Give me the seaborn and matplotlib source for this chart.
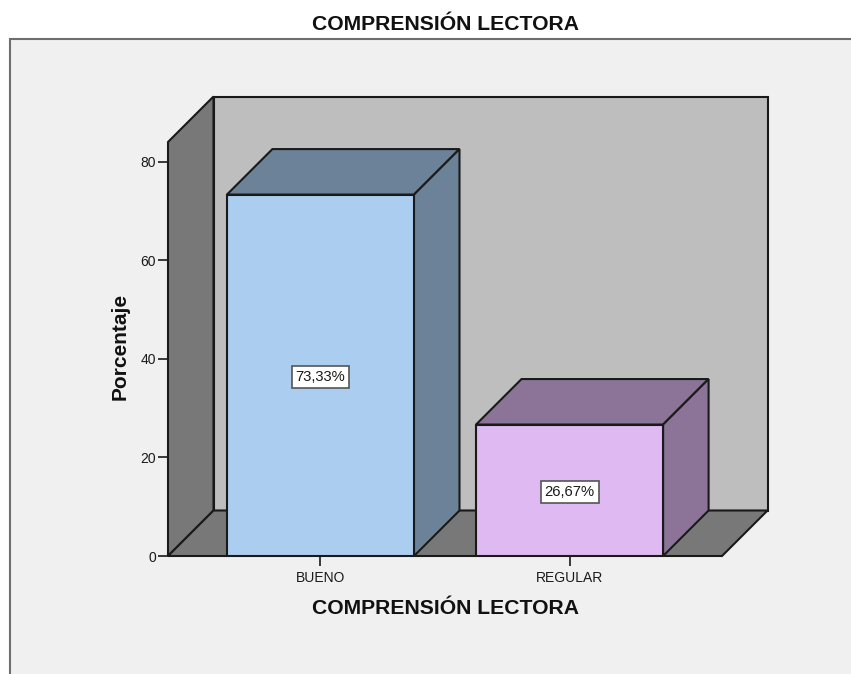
import matplotlib
matplotlib.use("Agg")
import matplotlib.pyplot as plt
import pandas as pd
import seaborn as sns
from matplotlib.patches import Polygon, Rectangle

# Data
categorias = ["BUENO", "REGULAR"]
porcentajes = [73.33, 26.67]
etiquetas = ["73,33%", "26,67%"]
y_ticks = [0, 20, 40, 60, 80]

colores = ["#ABCDEF", "#DEB9F2"]
colores_lado = ["#6C8299", "#8B7498"]
titulo = "COMPRENSIÓN LECTORA"

W, H = 851, 674
sns.set_theme(style="white")
plt.rcParams["font.family"] = ["Liberation Sans", "DejaVu Sans"]

df = pd.DataFrame({"cat": categorias, "pct": porcentajes})

fig = plt.figure(figsize=(W / 100, H / 100), dpi=100, facecolor="white")

# grey chart panel, runs off the right and bottom of the image
fig.add_artist(Rectangle((9.5 / W, -0.01), 1, 1 - 38.5 / H + 0.01, transform=fig.transFigure,
                         facecolor="#F0F0F0", edgecolor="#6E6E6E", linewidth=1.5, zorder=-1))

ax = fig.add_axes([168 / W, 1 - 556 / H, (722 - 168) / W, (556 - 142) / H])
ax.patch.set_alpha(0)

sns.barplot(data=df, x="cat", y="pct", hue="cat", palette=colores, legend=False,
            width=0.751, saturation=1, edgecolor="#1A1A1A", linewidth=1.5, ax=ax, zorder=3)

ax.set_xlim(-0.612, 1.612)
ax.set_ylim(0, 84)

# depth of the 3D effect, about 45 px to the right and up, in data units
dx = 45.5 * (1.612 + 0.612) / (722 - 168)
dy = 45.5 * 84 / (556 - 142)
x0, x1 = ax.get_xlim()
y0, y1 = ax.get_ylim()
borde = "#1A1A1A"


def cara(puntos, color, z):
    ax.add_patch(Polygon(puntos, closed=True, facecolor=color, edgecolor=borde,
                         linewidth=1.5, clip_on=False, zorder=z, joinstyle="miter"))


barras = list(ax.patches[:2])

# walls and floor
cara([(x0 + dx, y0 + dy), (x1 + dx, y0 + dy), (x1 + dx, y1 + dy), (x0 + dx, y1 + dy)], "#BEBEBE", 0.5)
cara([(x0, y0), (x0 + dx, y0 + dy), (x0 + dx, y1 + dy), (x0, y1)], "#787878", 0.6)
cara([(x0, y0), (x1, y0), (x1 + dx, y0 + dy), (x0 + dx, y0 + dy)], "#787878", 0.6)

# top and side of each bar, taken from the bars seaborn drew
for bar, lado, etiqueta in zip(barras, colores_lado, etiquetas):
    bx0, bx1 = bar.get_x(), bar.get_x() + bar.get_width()
    top = bar.get_height()
    cara([(bx0, top), (bx1, top), (bx1 + dx, top + dy), (bx0 + dx, top + dy)], lado, 2)
    cara([(bx1, 0), (bx1 + dx, dy), (bx1 + dx, top + dy), (bx1, top)], lado, 2)
    ax.annotate(etiqueta, ((bx0 + bx1) / 2, top / 2), xytext=(0, -1), textcoords="offset points",
                ha="center", va="center", fontsize=10.6, color="#1A1A1A", zorder=5,
                bbox=dict(boxstyle="square,pad=0.27", facecolor="white", edgecolor="#555555", linewidth=1.2))

sns.despine(ax=ax, left=True, bottom=True, top=True, right=True)
ax.set_yticks(y_ticks)
ax.tick_params(axis="both", left=True, bottom=True, length=7, width=1.2, color="#1A1A1A",
               labelsize=10, labelcolor="#1A1A1A", pad=1.5)
ax.tick_params(axis="x", pad=4)

ax.set_xlabel(titulo, fontsize=15.2, fontweight="bold", color="#111111", labelpad=10)
ax.set_ylabel("Porcentaje", fontsize=15, fontweight="bold", color="#111111", labelpad=8, y=0.505)
fig.text(446 / W, 1 - 24.5 / H, titulo, ha="center", va="center", fontsize=15.2,
         fontweight="bold", color="#111111")

fig.savefig("out.png", dpi=100, facecolor="white")
